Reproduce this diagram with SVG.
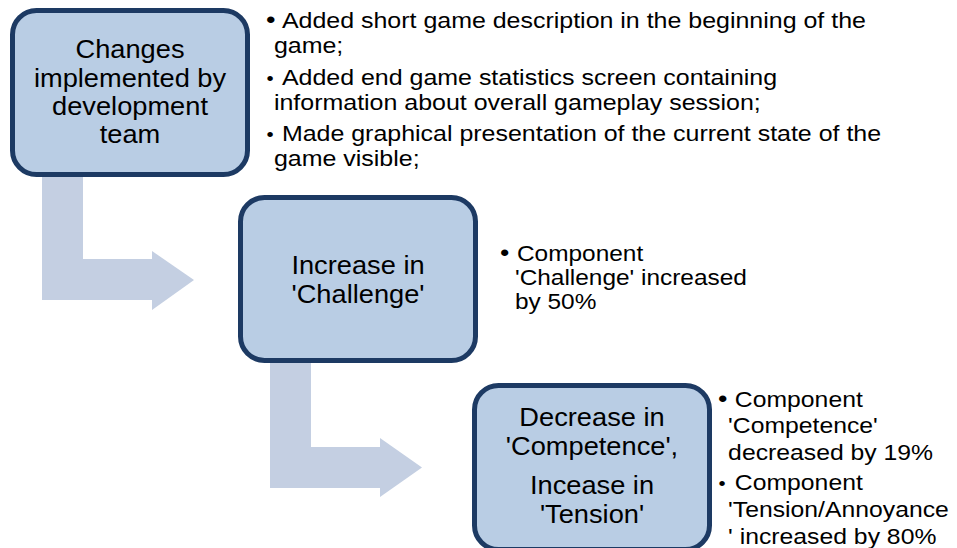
<svg xmlns="http://www.w3.org/2000/svg" width="957" height="548" viewBox="0 0 957 548">
  <style>
    .box { fill: #b9cde4; stroke: #1d3a63; stroke-width: 5; }
    .flow { fill: #c4cfe2; }
    .node-text { font-family: "Liberation Sans", Arial, sans-serif; font-size: 25px; fill: #000; text-anchor: middle; }
    .note { font-family: "Liberation Sans", Arial, sans-serif; font-size: 22px; fill: #000; }
    .dot-big { font-size: 24px; }
    .dot-small { font-size: 18px; }
  </style>

  <rect width="957" height="548" fill="#ffffff"/>

  <!-- bent flow arrows between the stages -->
  <g id="connectors">
    <polygon class="flow" points="42,172 83,172 83,259 152,259 152,251 194,280 152,310 152,300 42,300"/>
    <polygon class="flow" points="270,358 311,358 311,447 380,447 380,438 422,467.5 380,497 380,488 270,488"/>
  </g>

  <!-- stage 1 -->
  <g id="node-changes">
    <rect class="box" x="12.5" y="10.5" width="235" height="164" rx="24"/>
    <g transform="translate(130 0) scale(1.09 1)">
      <text class="node-text" x="0" y="58">Changes</text>
      <text class="node-text" x="0" y="87">implemented by</text>
      <text class="node-text" x="0" y="115">development</text>
      <text class="node-text" x="0" y="143">team</text>
    </g>
  </g>

  <g id="notes-changes" transform="translate(266 0) scale(1.135 1)">
    <text class="note"><tspan class="dot-big" x="0" y="28">•</tspan><tspan x="14" y="28">Added short game description in the beginning of the</tspan></text>
    <text class="note" x="7" y="53">game;</text>
    <text class="note"><tspan class="dot-small" x="0.5" y="85">•</tspan><tspan x="14" y="85">Added end game statistics screen containing</tspan></text>
    <text class="note" x="7" y="110">information about overall gameplay session;</text>
    <text class="note"><tspan class="dot-small" x="0.5" y="141">•</tspan><tspan x="14" y="141">Made graphical presentation of the current state of the</tspan></text>
    <text class="note" x="7" y="166">game visible;</text>
  </g>

  <!-- stage 2 -->
  <g id="node-challenge">
    <rect class="box" x="240.5" y="197.5" width="235" height="163" rx="24"/>
    <g transform="translate(358 0) scale(1.09 1)">
      <text class="node-text" x="0" y="274">Increase in</text>
      <text class="node-text" x="0" y="303">'Challenge'</text>
    </g>
  </g>

  <g id="notes-challenge" transform="translate(500 0) scale(1.11 1)">
    <text class="note"><tspan class="dot-big" x="0" y="261">•</tspan><tspan x="15.3" y="261">Component</tspan></text>
    <text class="note" x="13.5" y="285">'Challenge' increased</text>
    <text class="note" x="13.5" y="309">by 50%</text>
  </g>

  <!-- stage 3 -->
  <g id="node-competence">
    <rect class="box" x="474.5" y="385.5" width="235" height="164" rx="24"/>
    <g transform="translate(592 0) scale(1.09 1)">
      <text class="node-text" x="0" y="426">Decrease in</text>
      <text class="node-text" x="0" y="455">'Competence',</text>
      <text class="node-text" x="0" y="494">Incease in</text>
      <text class="node-text" x="0" y="523">'Tension'</text>
    </g>
  </g>

  <g id="notes-competence" transform="translate(718 0) scale(1.125 1)">
    <text class="note"><tspan class="dot-big" x="0" y="407">•</tspan><tspan x="15" y="407">Component</tspan></text>
    <text class="note" x="9" y="433">'Competence'</text>
    <text class="note" x="9" y="460">decreased by 19%</text>
    <text class="note"><tspan class="dot-small" x="0.5" y="490">•</tspan><tspan x="15" y="490">Component</tspan></text>
    <text class="note" x="9" y="517">'Tension/Annoyance</text>
    <text class="note" x="9" y="544">' increased by 80%</text>
  </g>
</svg>
